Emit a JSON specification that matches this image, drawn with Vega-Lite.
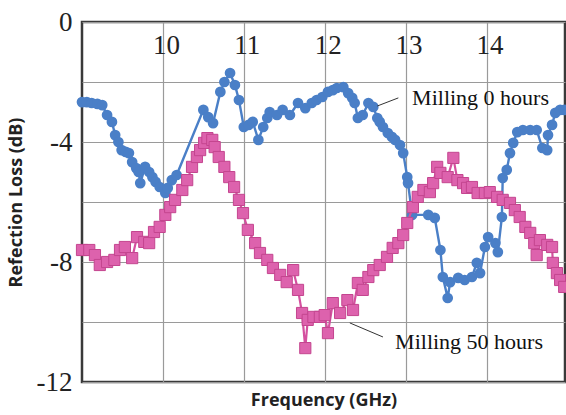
{
  "$schema": "https://vega.github.io/schema/vega-lite/v6.json",
  "width": 483,
  "height": 360,
  "autosize": {"type": "none"},
  "padding": {"left": 82, "top": 22, "right": 1, "bottom": 33},
  "background": "white",
  "config": {
    "view": {"stroke": "#3a3a3a", "strokeWidth": 2.5},
    "axis": {"gridColor": "#9a9a9a", "gridWidth": 1.2, "gridOpacity": 1, "domain": false, "ticks": false, "tickSize": 0}
  },
  "datasets": {
    "blue": [
      {"f": 9.00, "v": -2.67}, {"f": 9.06, "v": -2.67}, {"f": 9.12, "v": -2.70}, {"f": 9.19, "v": -2.73},
      {"f": 9.25, "v": -2.77}, {"f": 9.31, "v": -3.10}, {"f": 9.37, "v": -3.33}, {"f": 9.41, "v": -3.77},
      {"f": 9.45, "v": -4.00}, {"f": 9.49, "v": -4.27}, {"f": 9.54, "v": -4.33}, {"f": 9.58, "v": -4.37},
      {"f": 9.62, "v": -4.67}, {"f": 9.67, "v": -4.87}, {"f": 9.70, "v": -5.00}, {"f": 9.72, "v": -5.37},
      {"f": 9.78, "v": -4.83}, {"f": 9.83, "v": -5.00}, {"f": 9.87, "v": -5.17}, {"f": 9.91, "v": -5.33},
      {"f": 9.96, "v": -5.50}, {"f": 10.03, "v": -5.70}, {"f": 10.06, "v": -5.53}, {"f": 10.11, "v": -5.27},
      {"f": 10.17, "v": -5.10}, {"f": 10.50, "v": -2.93}, {"f": 10.56, "v": -3.17}, {"f": 10.62, "v": -3.37},
      {"f": 10.71, "v": -2.33}, {"f": 10.76, "v": -2.00}, {"f": 10.83, "v": -1.70}, {"f": 10.89, "v": -2.10},
      {"f": 10.94, "v": -2.60}, {"f": 11.00, "v": -3.50}, {"f": 11.06, "v": -3.43}, {"f": 11.11, "v": -3.33},
      {"f": 11.18, "v": -3.93}, {"f": 11.24, "v": -3.50}, {"f": 11.29, "v": -3.20}, {"f": 11.32, "v": -3.00},
      {"f": 11.41, "v": -3.10}, {"f": 11.48, "v": -2.93}, {"f": 11.57, "v": -3.10}, {"f": 11.67, "v": -2.70},
      {"f": 11.76, "v": -2.87}, {"f": 11.84, "v": -2.70}, {"f": 11.90, "v": -2.60}, {"f": 11.97, "v": -2.50},
      {"f": 12.04, "v": -2.33}, {"f": 12.10, "v": -2.27}, {"f": 12.15, "v": -2.20}, {"f": 12.23, "v": -2.17},
      {"f": 12.29, "v": -2.37}, {"f": 12.34, "v": -2.53}, {"f": 12.37, "v": -2.70}, {"f": 12.41, "v": -3.20},
      {"f": 12.47, "v": -3.10}, {"f": 12.54, "v": -2.70}, {"f": 12.60, "v": -2.83}, {"f": 12.65, "v": -3.20},
      {"f": 12.68, "v": -3.33}, {"f": 12.72, "v": -3.50}, {"f": 12.78, "v": -3.70}, {"f": 12.83, "v": -3.83},
      {"f": 12.87, "v": -3.93}, {"f": 12.93, "v": -4.10}, {"f": 12.97, "v": -4.37}, {"f": 13.02, "v": -5.17},
      {"f": 13.03, "v": -5.37}, {"f": 13.08, "v": -6.43}, {"f": 13.28, "v": -6.43}, {"f": 13.36, "v": -6.53},
      {"f": 13.43, "v": -7.60}, {"f": 13.46, "v": -8.50}, {"f": 13.52, "v": -9.20}, {"f": 13.55, "v": -8.67},
      {"f": 13.65, "v": -8.53}, {"f": 13.73, "v": -8.60}, {"f": 13.82, "v": -8.50}, {"f": 13.88, "v": -8.03},
      {"f": 13.92, "v": -8.37}, {"f": 13.98, "v": -7.50}, {"f": 14.02, "v": -7.17}, {"f": 14.11, "v": -7.37},
      {"f": 14.14, "v": -7.67}, {"f": 14.19, "v": -6.50}, {"f": 14.20, "v": -5.20}, {"f": 14.25, "v": -4.93},
      {"f": 14.29, "v": -4.37}, {"f": 14.33, "v": -4.03}, {"f": 14.38, "v": -3.67}, {"f": 14.45, "v": -3.60},
      {"f": 14.54, "v": -3.60}, {"f": 14.62, "v": -3.60}, {"f": 14.69, "v": -4.20}, {"f": 14.75, "v": -4.27},
      {"f": 14.76, "v": -3.77}, {"f": 14.81, "v": -3.43}, {"f": 14.85, "v": -3.03}, {"f": 14.91, "v": -2.93},
      {"f": 14.96, "v": -2.93}
    ],
    "pink": [
      {"f": 9.00, "v": -7.60}, {"f": 9.09, "v": -7.60}, {"f": 9.16, "v": -7.77}, {"f": 9.22, "v": -8.10},
      {"f": 9.31, "v": -8.00}, {"f": 9.40, "v": -7.93}, {"f": 9.47, "v": -7.60}, {"f": 9.53, "v": -7.50},
      {"f": 9.62, "v": -7.87}, {"f": 9.68, "v": -7.17}, {"f": 9.77, "v": -7.33}, {"f": 9.83, "v": -7.37},
      {"f": 9.89, "v": -7.00}, {"f": 9.96, "v": -6.83}, {"f": 10.03, "v": -6.43}, {"f": 10.09, "v": -6.17},
      {"f": 10.15, "v": -5.93}, {"f": 10.24, "v": -5.60}, {"f": 10.30, "v": -5.27}, {"f": 10.36, "v": -4.83},
      {"f": 10.42, "v": -4.50}, {"f": 10.46, "v": -4.27}, {"f": 10.51, "v": -4.03}, {"f": 10.55, "v": -3.87},
      {"f": 10.61, "v": -3.93}, {"f": 10.64, "v": -4.17}, {"f": 10.69, "v": -4.50}, {"f": 10.76, "v": -4.83},
      {"f": 10.82, "v": -5.17}, {"f": 10.88, "v": -5.50}, {"f": 10.94, "v": -5.93}, {"f": 10.99, "v": -6.37},
      {"f": 11.05, "v": -6.93}, {"f": 11.14, "v": -7.37}, {"f": 11.20, "v": -7.70}, {"f": 11.29, "v": -7.93},
      {"f": 11.36, "v": -8.20}, {"f": 11.45, "v": -8.43}, {"f": 11.53, "v": -8.67}, {"f": 11.61, "v": -8.27},
      {"f": 11.67, "v": -8.93}, {"f": 11.72, "v": -9.70}, {"f": 11.76, "v": -10.87}, {"f": 11.79, "v": -9.93},
      {"f": 11.86, "v": -9.83}, {"f": 11.94, "v": -9.83}, {"f": 12.00, "v": -9.77}, {"f": 12.04, "v": -10.37},
      {"f": 12.10, "v": -9.37}, {"f": 12.19, "v": -9.70}, {"f": 12.28, "v": -9.27}, {"f": 12.35, "v": -9.60},
      {"f": 12.41, "v": -8.70}, {"f": 12.47, "v": -8.93}, {"f": 12.54, "v": -8.50}, {"f": 12.60, "v": -8.27},
      {"f": 12.68, "v": -8.10}, {"f": 12.77, "v": -7.83}, {"f": 12.84, "v": -7.53}, {"f": 12.91, "v": -7.37},
      {"f": 12.97, "v": -7.10}, {"f": 13.02, "v": -6.70}, {"f": 13.09, "v": -6.17}, {"f": 13.15, "v": -5.83},
      {"f": 13.22, "v": -5.60}, {"f": 13.30, "v": -5.67}, {"f": 13.34, "v": -5.37}, {"f": 13.39, "v": -4.83},
      {"f": 13.43, "v": -5.03}, {"f": 13.52, "v": -5.17}, {"f": 13.59, "v": -4.53}, {"f": 13.64, "v": -5.27},
      {"f": 13.71, "v": -5.37}, {"f": 13.76, "v": -5.53}, {"f": 13.82, "v": -5.50}, {"f": 13.89, "v": -5.70},
      {"f": 13.98, "v": -5.70}, {"f": 14.04, "v": -5.67}, {"f": 14.13, "v": -5.83}, {"f": 14.20, "v": -5.93},
      {"f": 14.29, "v": -6.03}, {"f": 14.35, "v": -6.27}, {"f": 14.41, "v": -6.50}, {"f": 14.48, "v": -6.83},
      {"f": 14.54, "v": -7.03}, {"f": 14.59, "v": -7.37}, {"f": 14.62, "v": -7.77}, {"f": 14.66, "v": -7.27},
      {"f": 14.75, "v": -7.43}, {"f": 14.81, "v": -7.50}, {"f": 14.82, "v": -8.03}, {"f": 14.87, "v": -8.37},
      {"f": 14.91, "v": -8.60}, {"f": 14.96, "v": -8.83}
    ],
    "labels": [
      {"f": 13.08, "v": -2.53, "t": "Milling 0 hours"},
      {"f": 12.87, "v": -10.67, "t": "Milling 50 hours"}
    ],
    "leaders": [
      {"f": 12.65, "v": -2.8, "f2": 12.91, "v2": -2.53},
      {"f": 12.31, "v": -10.03, "f2": 12.72, "v2": -10.5}
    ]
  },
  "resolve": {"axis": {"x": "independent"}},
  "layer": [
    {
      "data": {"name": "blue"},
      "mark": {"type": "line", "color": "#4a7fc7", "strokeWidth": 2.4,
               "point": {"filled": true, "size": 115, "color": "#4a7fc7"}},
      "encoding": {
        "x": {"field": "f", "type": "quantitative",
              "scale": {"domain": [9, 14.97], "nice": false, "zero": false},
              "axis": {"orient": "top", "values": [10, 11, 12, 13, 14], "grid": true, "title": null,
                       "labelFont": "Liberation Serif", "labelFontSize": 27, "labelColor": "#222",
                       "labelPadding": -31, "labelBaseline": "alphabetic", "labelOffset": 3}},
        "y": {"field": "v", "type": "quantitative",
              "scale": {"domain": [-12, 0], "nice": false, "zero": false},
              "axis": {"values": [-12, -10, -8, -6, -4, -2, 0], "grid": true,
                       "labelExpr": "datum.value % 4 == 0 ? '' + datum.value : ''",
                       "labelFont": "Liberation Serif", "labelFontSize": 27, "labelColor": "#222",
                       "labelPadding": 10,
                       "title": "Refection Loss (dB)", "titleFont": "Open Sans", "titleFontWeight": "bold",
                       "titleFontSize": 18, "titleColor": "#222", "titleX": -57, "titleY": 180,
                       "titleAlign": "center", "titleAngle": -90, "titleBaseline": "bottom"}}
      }
    },
    {
      "data": {"name": "pink"},
      "mark": {"type": "line", "color": "#d4509f", "strokeWidth": 2.2,
               "point": {"filled": true, "shape": "square", "size": 125, "color": "#dd62ad",
                         "stroke": "#c4458f", "strokeWidth": 1}},
      "encoding": {
        "x": {"field": "f", "type": "quantitative",
              "scale": {"domain": [9, 14.97], "nice": false, "zero": false},
              "axis": {"orient": "bottom", "labels": false, "grid": false,
                       "title": "Frequency (GHz)", "titleFont": "Open Sans", "titleFontWeight": "bold",
                       "titleFontSize": 18, "titleColor": "#222", "titlePadding": 9}},
        "y": {"field": "v", "type": "quantitative"}
      }
    },
    {
      "data": {"name": "leaders"},
      "mark": {"type": "rule", "color": "#333", "strokeWidth": 1},
      "encoding": {
        "x": {"field": "f", "type": "quantitative", "axis": null},
        "y": {"field": "v", "type": "quantitative"},
        "x2": {"field": "f2"},
        "y2": {"field": "v2"}
      }
    },
    {
      "data": {"name": "labels"},
      "mark": {"type": "text", "align": "left", "baseline": "middle", "font": "Liberation Serif",
               "fontSize": 22, "color": "#111"},
      "encoding": {
        "x": {"field": "f", "type": "quantitative", "axis": null},
        "y": {"field": "v", "type": "quantitative"},
        "text": {"field": "t"}
      }
    }
  ]
}
